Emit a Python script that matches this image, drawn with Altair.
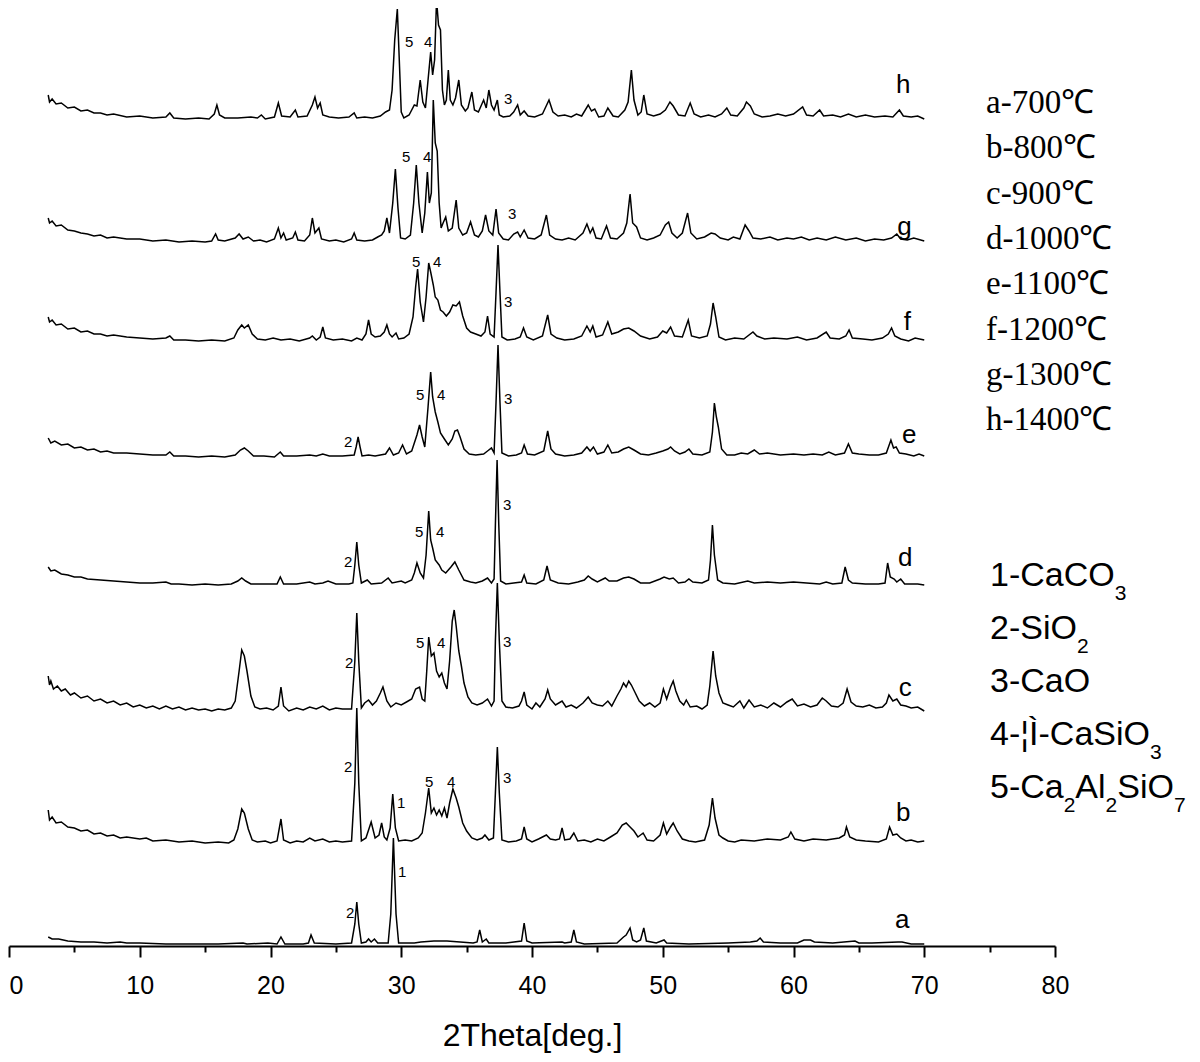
import altair as alt
import pandas as pd

# ---------------- data ----------------
TRACE_NAMES = ["a", "b", "c", "d", "e", "f", "g", "h"]
# vertical stacking offset of each pattern (intensity units)
TRACE_OFFSETS = [2, 103, 235, 361, 489, 604, 703, 826]
TEMPERATURE_LABELS = ["a-700℃", "b-800℃", "c-900℃", "d-1000℃",
                      "e-1100℃", "f-1200℃", "g-1300℃", "h-1400℃"]

# (2theta, intensity above the pattern's own baseline)
PATTERN_A = [(3.0, 7), (3.3, 5), (3.8, 5), (4.5, 3), (5.5, 2), (6.5, 2), (7.5, 1), (8.5, 2), (9.0, 1), (10, 1),
             (12, 0), (14, 0), (16, 0), (17.9, 1), (18.2, 0), (19.8, 1), (20.5, 0), (20.8, 7), (21.1, 0),
             (22.5, 0), (22.9, 1), (23.1, 9), (23.35, 1), (25, 0), (26.2, 1), (26.45, 20), (26.6, 42),
             (26.75, 20), (26.95, 1), (27.3, 2), (27.5, 5), (27.7, 2), (27.95, 5), (28.2, 1), (29.0, 1),
             (29.2, 30), (29.4, 106), (29.6, 30), (29.8, 1), (31, 1), (31.5, 2), (32.5, 3), (33.5, 3),
             (34.5, 2), (35.5, 1), (35.8, 2), (36.0, 14), (36.2, 2), (36.5, 5), (36.7, 1), (38, 1),
             (39.2, 3), (39.4, 21), (39.6, 3), (40, 1), (42.3, 2), (42.5, 1), (43.0, 2), (43.2, 14),
             (43.4, 2), (44, 0), (46.5, 1), (47.0, 7), (47.2, 9), (47.5, 16), (47.7, 4), (48.0, 2),
             (48.3, 4), (48.55, 16), (48.75, 3), (49.5, 1), (50.1, 4), (50.3, 1), (52, 0), (55, 1),
             (56.7, 2), (57.2, 3), (57.45, 6), (57.7, 2), (59, 1), (60.3, 1), (60.8, 4), (61.3, 4),
             (61.6, 2), (63, 1), (64.7, 3), (65.0, 1), (66, 1), (68.0, 2), (68.3, 2), (69, 0), (70, 0)]

PATTERN_B = [(3.0, 33), (3.1, 23), (3.3, 26), (3.6, 20), (4.0, 21), (4.5, 16), (5.0, 15), (5.5, 12), (6.0, 13),
             (6.5, 9), (7.0, 10), (7.5, 7), (8.0, 8), (8.5, 5), (9.0, 6), (10, 4), (10.5, 5), (11, 2), (12, 3),
             (13, 1), (14, 2), (15, 0), (16, 1), (16.8, 0), (17.2, 3), (17.5, 14), (17.8, 34), (18.0, 30),
             (18.3, 14), (18.6, 3), (19.0, 1), (19.6, 2), (20.0, 0), (20.5, 2), (20.8, 24), (21.0, 3),
             (21.5, 0), (22.0, 2), (22.5, 1), (23.0, 5), (23.4, 2), (24.0, 4), (24.5, 1), (25.0, 2),
             (25.5, 1), (26.2, 2), (26.45, 60), (26.6, 135), (26.75, 60), (26.95, 2), (27.3, 5),
             (27.7, 21), (28.0, 5), (28.3, 8), (28.5, 20), (28.7, 6), (28.9, 3), (29.15, 15), (29.35, 49),
             (29.55, 15), (29.8, 2), (30.3, 3), (30.8, 2), (31.3, 5), (31.6, 10), (31.85, 30), (32.1, 55),
             (32.3, 30), (32.5, 35), (32.7, 28), (32.9, 33), (33.1, 27), (33.3, 35), (33.5, 25), (33.7, 40),
             (33.95, 54), (34.2, 45), (34.4, 36), (34.7, 20), (35.0, 12), (35.4, 5), (35.8, 3), (36.2, 5),
             (36.4, 8), (36.7, 3), (37.05, 5), (37.2, 50), (37.35, 96), (37.5, 50), (37.7, 3), (38.2, 1),
             (38.8, 2), (39.2, 4), (39.4, 16), (39.6, 4), (40.0, 1), (40.5, 4), (41.1, 8), (41.4, 4),
             (41.8, 3), (42.1, 4), (42.3, 15), (42.5, 3), (42.9, 4), (43.2, 10), (43.5, 2), (44.0, 3),
             (44.5, 1), (45.0, 4), (45.5, 2), (46.0, 6), (46.5, 10), (46.9, 18), (47.2, 20), (47.5, 16),
             (47.8, 12), (48.1, 6), (48.5, 10), (48.8, 3), (49.3, 2), (49.8, 8), (50.05, 20), (50.3, 9),
             (50.6, 16), (50.8, 20), (51.1, 12), (51.5, 4), (52.0, 2), (52.5, 1), (53.2, 3), (53.55, 18),
             (53.8, 45), (54.0, 25), (54.3, 8), (54.6, 5), (55.0, 2), (55.5, 1), (56, 3), (57, 2), (58, 4),
             (59, 3), (59.6, 6), (59.8, 11), (60.1, 4), (60.8, 2), (61.5, 4), (62.5, 3), (63.5, 5),
             (63.9, 8), (64.05, 16), (64.3, 6), (64.8, 3), (65.5, 2), (66.5, 1), (67.1, 4), (67.35, 16),
             (67.6, 8), (67.9, 9), (68.2, 5), (68.6, 2), (69, 3), (69.5, 1), (70, 2)]

PATTERN_C = [(3.0, 35), (3.1, 26), (3.2, 30), (3.4, 22), (3.7, 25), (4.0, 20), (4.3, 22), (4.7, 16), (5.0, 18),
             (5.5, 13), (6.0, 15), (6.5, 10), (7.0, 12), (7.5, 8), (8.0, 10), (8.5, 6), (9.0, 8), (9.5, 4),
             (10, 6), (10.5, 3), (11, 5), (11.5, 2), (12, 5), (12.5, 2), (13, 4), (13.5, 1), (14, 3),
             (14.5, 1), (15, 2), (15.5, 0), (16, 2), (16.5, 1), (17.0, 3), (17.3, 10), (17.6, 40),
             (17.8, 61), (18.0, 55), (18.2, 40), (18.5, 15), (18.8, 4), (19.2, 2), (19.7, 3), (20.2, 1),
             (20.6, 5), (20.8, 24), (21.0, 5), (21.4, 0), (22.0, 3), (22.5, 1), (23.0, 4), (23.5, 2),
             (24.0, 5), (24.5, 1), (25.0, 3), (25.5, 2), (26.2, 2), (26.45, 50), (26.6, 98), (26.75, 50),
             (26.95, 3), (27.2, 8), (27.5, 11), (27.8, 6), (28.1, 10), (28.4, 18), (28.6, 24), (28.9, 10),
             (29.2, 4), (29.6, 8), (30.0, 6), (30.4, 9), (30.8, 12), (31.1, 22), (31.4, 24), (31.6, 12),
             (31.8, 10), (31.95, 40), (32.1, 74), (32.3, 55), (32.5, 58), (32.7, 40), (32.9, 34),
             (33.1, 38), (33.3, 28), (33.5, 22), (33.7, 50), (33.9, 90), (34.05, 101), (34.2, 85),
             (34.4, 60), (34.6, 45), (34.8, 28), (35.1, 14), (35.4, 8), (35.8, 6), (36.2, 8), (36.6, 12),
             (36.9, 5), (37.1, 10), (37.2, 70), (37.35, 128), (37.5, 70), (37.7, 10), (38.0, 4), (38.5, 3),
             (39.0, 5), (39.2, 10), (39.4, 19), (39.6, 6), (40.0, 2), (40.3, 8), (40.6, 4), (41.0, 12),
             (41.2, 21), (41.4, 12), (41.8, 6), (42.3, 10), (42.6, 4), (43.0, 6), (43.4, 3), (43.9, 8),
             (44.3, 14), (44.6, 8), (45.0, 6), (45.4, 5), (45.8, 10), (46.1, 5), (46.5, 15), (46.8, 22),
             (47.0, 28), (47.2, 24), (47.4, 30), (47.6, 26), (47.9, 18), (48.2, 10), (48.6, 5), (49.0, 8),
             (49.4, 4), (49.8, 8), (50.05, 22), (50.3, 12), (50.6, 24), (50.8, 30), (51.0, 20), (51.3, 10),
             (51.6, 6), (51.8, 11), (52.1, 4), (52.6, 5), (53.0, 2), (53.4, 6), (53.6, 25), (53.85, 60),
             (54.05, 35), (54.3, 18), (54.6, 8), (55.0, 6), (55.4, 4), (55.9, 10), (56.2, 3), (56.6, 11),
             (57.0, 4), (57.5, 6), (58.0, 3), (58.5, 8), (59.0, 4), (59.5, 9), (59.9, 12), (60.3, 5),
             (60.8, 7), (61.3, 4), (61.8, 6), (62.2, 13), (62.5, 10), (62.9, 5), (63.4, 4), (63.8, 8),
             (64.1, 22), (64.4, 9), (64.8, 5), (65.3, 4), (65.8, 6), (66.3, 3), (66.8, 4), (67.1, 8),
             (67.3, 16), (67.6, 10), (67.9, 12), (68.2, 6), (68.6, 5), (69.0, 3), (69.5, 4), (70, 0)]

PATTERN_D = [(3.0, 18), (3.2, 14), (3.5, 15), (4.0, 11), (4.5, 10), (5.0, 8), (5.5, 8), (6.0, 6), (7.0, 5),
             (8.0, 4), (9.0, 3), (10, 2), (11, 2), (12.0, 3), (12.4, 1), (13, 1), (14, 0), (15, 1), (16, 0),
             (17.0, 1), (17.5, 4), (17.8, 7), (18.1, 4), (18.5, 1), (19.5, 1), (20.5, 1), (20.75, 8),
             (21.0, 1), (22.0, 1), (23.0, 3), (23.4, 1), (24.0, 2), (24.4, 4), (25.0, 1), (26.0, 1),
             (26.3, 2), (26.45, 20), (26.6, 43), (26.75, 20), (26.95, 2), (27.4, 5), (27.7, 1), (28.5, 2),
             (29.0, 7), (29.3, 2), (30.0, 4), (30.3, 2), (30.8, 5), (31.0, 12), (31.2, 22), (31.45, 12),
             (31.7, 7), (31.9, 30), (32.1, 74), (32.25, 45), (32.4, 37), (32.6, 25), (32.9, 20), (33.1, 15),
             (33.4, 12), (33.8, 18), (34.1, 23), (34.4, 15), (34.8, 5), (35.3, 3), (35.7, 2), (36.2, 4),
             (36.6, 7), (36.9, 2), (37.1, 6), (37.2, 60), (37.33, 125), (37.46, 60), (37.6, 4), (38.0, 1),
             (38.6, 2), (39.2, 3), (39.4, 10), (39.6, 2), (40.3, 1), (40.9, 5), (41.15, 19), (41.4, 5),
             (42.0, 2), (42.8, 1), (43.5, 3), (44.0, 5), (44.3, 9), (44.6, 6), (45.0, 3), (45.6, 7),
             (45.9, 4), (46.5, 4), (47.0, 7), (47.4, 8), (47.8, 6), (48.3, 2), (49.0, 2), (49.8, 6),
             (50.1, 8), (50.5, 6), (50.8, 7), (51.2, 2), (51.7, 3), (52.0, 6), (52.3, 3), (53.0, 2),
             (53.5, 5), (53.65, 25), (53.8, 60), (53.95, 30), (54.2, 5), (54.6, 2), (55.5, 1), (56.5, 4),
             (57.0, 2), (58, 3), (59, 2), (60, 3), (61, 2), (62, 1), (62.5, 3), (63, 1), (63.7, 2),
             (63.95, 18), (64.2, 5), (64.5, 2), (65.5, 1), (66.5, 1), (67.0, 2), (67.2, 22), (67.4, 8),
             (67.7, 6), (67.9, 3), (68.2, 6), (68.5, 1), (69.5, 1), (70, 0)]

PATTERN_E = [(3.0, 19), (3.2, 14), (3.5, 16), (4.0, 12), (4.5, 13), (5.0, 9), (5.5, 10), (6.0, 7), (6.5, 8),
             (7.0, 5), (7.5, 6), (8.0, 4), (9.0, 4), (10, 3), (11, 2), (12.0, 2), (12.3, 5), (12.6, 1),
             (13.5, 1), (14.5, 0), (15.5, 1), (16.5, 0), (17.3, 2), (17.7, 7), (18.0, 9), (18.3, 6),
             (18.7, 1), (19.5, 1), (20.3, 0), (20.75, 5), (21.0, 1), (22.0, 1), (23.0, 2), (23.5, 1),
             (24.0, 3), (24.5, 1), (25.5, 1), (26.4, 2), (26.55, 10), (26.7, 20), (26.85, 10), (27.0, 1),
             (27.5, 2), (28.0, 1), (28.8, 3), (29.1, 9), (29.4, 2), (29.8, 4), (30.1, 12), (30.4, 3),
             (30.8, 6), (31.2, 22), (31.4, 32), (31.6, 20), (31.8, 10), (32.05, 50), (32.25, 85),
             (32.4, 60), (32.6, 45), (32.8, 35), (33.0, 24), (33.3, 18), (33.6, 12), (33.9, 18), (34.1, 26),
             (34.3, 27), (34.5, 20), (34.8, 8), (35.2, 3), (35.7, 2), (36.3, 3), (36.6, 6), (36.9, 9),
             (37.1, 4), (37.25, 55), (37.4, 112), (37.55, 55), (37.7, 4), (38.2, 1), (38.8, 2), (39.2, 4),
             (39.4, 12), (39.65, 3), (40.2, 2), (40.9, 6), (41.2, 26), (41.45, 8), (41.8, 3), (42.5, 1),
             (43.2, 2), (43.8, 4), (44.2, 10), (44.45, 6), (44.7, 10), (45.0, 3), (45.5, 5), (45.8, 12),
             (46.1, 4), (46.6, 5), (47.0, 8), (47.4, 10), (47.8, 7), (48.3, 3), (48.9, 2), (49.5, 4),
             (50.0, 6), (50.4, 8), (50.6, 10), (50.9, 6), (51.3, 3), (51.7, 5), (52.0, 8), (52.3, 3),
             (53.0, 2), (53.6, 5), (53.8, 25), (53.95, 54), (54.1, 40), (54.25, 30), (54.5, 8), (54.9, 2),
             (55.5, 2), (56, 4), (56.5, 3), (57.0, 7), (57.4, 3), (58, 4), (59, 2), (60, 3), (60.8, 2),
             (61.5, 3), (62.2, 2), (62.7, 5), (63.2, 2), (63.9, 4), (64.2, 13), (64.5, 4), (65.0, 3),
             (65.8, 2), (66.5, 2), (67.1, 4), (67.45, 17), (67.65, 9), (67.85, 10), (68.1, 4), (68.6, 3),
             (69.2, 1), (69.6, 3), (70, 1)]

PATTERN_F = [(3.0, 25), (3.1, 20), (3.3, 22), (3.6, 17), (4.0, 18), (4.5, 13), (5.0, 14), (5.5, 10), (6.0, 11),
             (6.5, 8), (7.0, 8), (7.5, 6), (8.0, 7), (9.0, 5), (10, 4), (11, 3), (12.0, 4), (12.3, 6),
             (12.6, 2), (13.5, 2), (14.5, 1), (15.5, 2), (16.5, 1), (17.2, 4), (17.5, 12), (17.8, 17),
             (18.0, 14), (18.3, 17), (18.6, 8), (19.0, 3), (19.6, 2), (20.2, 4), (20.8, 2), (21.5, 3),
             (22.2, 1), (23.0, 4), (23.2, 6), (23.5, 2), (23.8, 5), (24.0, 15), (24.2, 4), (24.8, 2),
             (25.5, 3), (26.2, 1), (26.6, 4), (27.0, 2), (27.3, 8), (27.5, 22), (27.7, 8), (28.0, 5),
             (28.4, 6), (28.7, 10), (28.9, 17), (29.1, 8), (29.3, 5), (29.6, 9), (29.8, 3), (30.2, 4),
             (30.6, 8), (30.9, 25), (31.1, 55), (31.25, 73), (31.45, 40), (31.7, 20), (31.9, 45),
             (32.1, 79), (32.25, 70), (32.45, 57), (32.6, 45), (32.8, 42), (33.0, 32), (33.2, 30),
             (33.45, 26), (33.7, 30), (33.95, 37), (34.2, 36), (34.45, 40), (34.7, 26), (35.0, 14),
             (35.3, 10), (35.7, 8), (36.1, 6), (36.4, 10), (36.6, 26), (36.8, 8), (37.1, 5), (37.25, 50),
             (37.4, 97), (37.55, 50), (37.7, 5), (38.1, 2), (38.7, 3), (39.1, 5), (39.35, 14), (39.6, 5),
             (40.1, 2), (40.8, 6), (41.2, 27), (41.45, 8), (41.9, 4), (42.5, 2), (43.2, 3), (43.8, 6),
             (44.2, 16), (44.45, 10), (44.65, 16), (44.9, 5), (45.4, 7), (45.8, 20), (46.1, 8), (46.6, 10),
             (47.0, 13), (47.4, 14), (47.8, 11), (48.3, 6), (49.0, 3), (49.6, 5), (50.0, 11), (50.3, 9),
             (50.6, 15), (50.9, 6), (51.5, 5), (51.95, 22), (52.2, 6), (52.8, 4), (53.4, 6), (53.65, 18),
             (53.85, 39), (54.05, 25), (54.3, 5), (54.8, 2), (55.5, 4), (56.2, 3), (56.9, 10), (57.2, 6),
             (57.8, 3), (58.5, 4), (59.5, 3), (60.3, 5), (61, 2), (61.8, 4), (62.5, 10), (62.8, 4),
             (63.5, 3), (64.0, 6), (64.25, 12), (64.5, 4), (65.3, 3), (66.0, 2), (66.8, 4), (67.25, 8),
             (67.5, 14), (67.75, 6), (68.2, 3), (68.8, 1), (69.3, 4), (70, 2)]

PATTERN_G = [(3.0, 25), (3.1, 20), (3.3, 22), (3.6, 17), (4.0, 18), (4.5, 13), (5.0, 12), (5.5, 10), (6.0, 9),
             (6.5, 7), (7.0, 8), (7.5, 5), (8.0, 6), (9.0, 4), (10, 4), (11, 2), (12, 3), (13, 1), (14, 2),
             (15, 1), (15.5, 2), (15.8, 9), (16.0, 3), (16.5, 2), (17.3, 5), (17.6, 9), (17.9, 4), (18.3, 6),
             (18.7, 2), (19.2, 3), (19.7, 1), (20.3, 4), (20.6, 15), (20.8, 5), (21.0, 10), (21.2, 3),
             (21.7, 5), (21.9, 11), (22.1, 3), (22.6, 2), (23.0, 8), (23.2, 25), (23.4, 10), (23.7, 15),
             (23.9, 4), (24.5, 2), (25.0, 3), (25.6, 1), (26.2, 4), (26.4, 10), (26.6, 3), (27.2, 2),
             (27.8, 3), (28.2, 6), (28.5, 8), (28.7, 12), (28.9, 25), (29.1, 10), (29.35, 40), (29.55, 74),
             (29.75, 35), (29.95, 5), (30.3, 4), (30.7, 8), (30.95, 40), (31.15, 78), (31.35, 40),
             (31.6, 10), (31.8, 30), (32.0, 71), (32.15, 40), (32.3, 50), (32.45, 143), (32.6, 100),
             (32.75, 92), (32.9, 40), (33.05, 15), (33.2, 20), (33.4, 26), (33.6, 12), (33.9, 15),
             (34.2, 43), (34.4, 15), (34.7, 8), (35.0, 10), (35.3, 21), (35.6, 8), (35.9, 6), (36.2, 12),
             (36.45, 28), (36.7, 12), (37.0, 8), (37.25, 34), (37.45, 10), (37.8, 4), (38.2, 3), (38.6, 9),
             (38.9, 11), (39.1, 6), (39.4, 13), (39.7, 5), (40.2, 4), (40.7, 8), (41.1, 28), (41.35, 8),
             (41.8, 4), (42.3, 3), (42.8, 5), (43.3, 3), (43.9, 10), (44.2, 19), (44.45, 10), (44.65, 15),
             (44.9, 5), (45.3, 4), (45.7, 17), (46.0, 5), (46.5, 4), (47.0, 10), (47.25, 20), (47.5, 49),
             (47.7, 20), (48.0, 16), (48.3, 5), (48.8, 3), (49.3, 5), (49.8, 8), (50.2, 18), (50.45, 21),
             (50.7, 10), (51.1, 5), (51.5, 10), (51.9, 30), (52.15, 10), (52.6, 4), (53.2, 6), (53.7, 10),
             (54.0, 9), (54.4, 5), (55, 3), (55.4, 6), (55.9, 4), (56.3, 18), (56.6, 12), (56.9, 5),
             (57.5, 4), (58.2, 6), (58.8, 3), (59.5, 5), (60.0, 4), (60.6, 6), (61.2, 3), (61.8, 5),
             (62.5, 3), (63.2, 6), (64.0, 3), (64.8, 5), (65.5, 2), (66.2, 4), (66.9, 3), (67.5, 5),
             (67.9, 9), (68.2, 4), (68.7, 3), (69.2, 5), (70, 2)]

PATTERN_H = [(3.0, 25), (3.1, 18), (3.3, 21), (3.6, 16), (4.0, 17), (4.5, 12), (5.0, 13), (5.5, 9), (6.0, 10),
             (6.5, 7), (7.0, 7), (7.5, 5), (8.0, 6), (9.0, 3), (10, 4), (11, 2), (12.0, 3), (12.3, 7),
             (12.6, 2), (13.5, 1), (14.5, 2), (15.3, 1), (15.7, 6), (15.9, 15), (16.1, 5), (16.5, 2),
             (17.5, 2), (18.5, 3), (19.0, 2), (19.3, 5), (19.6, 1), (20.3, 3), (20.6, 17), (20.85, 4),
             (21.5, 3), (21.9, 10), (22.1, 3), (22.8, 4), (23.2, 15), (23.4, 23), (23.6, 12), (23.8, 17),
             (24.0, 5), (24.5, 3), (25.2, 2), (26.0, 3), (26.4, 7), (26.6, 2), (27.2, 3), (27.8, 2),
             (28.4, 4), (28.8, 8), (29.1, 10), (29.3, 30), (29.5, 80), (29.7, 111), (29.85, 60), (30.0, 8),
             (30.2, 2), (30.6, 5), (31.0, 15), (31.2, 14), (31.45, 40), (31.65, 18), (31.85, 12),
             (32.05, 40), (32.25, 68), (32.4, 45), (32.55, 60), (32.7, 120), (32.85, 95), (33.0, 90),
             (33.15, 30), (33.3, 15), (33.45, 20), (33.6, 50), (33.75, 20), (33.95, 15), (34.15, 22),
             (34.4, 40), (34.6, 15), (34.9, 9), (35.1, 12), (35.4, 28), (35.6, 10), (35.9, 8), (36.1, 14),
             (36.3, 20), (36.5, 12), (36.7, 30), (36.9, 15), (37.1, 10), (37.35, 20), (37.5, 5), (37.8, 3),
             (38.3, 4), (38.6, 8), (38.9, 15), (39.1, 5), (39.4, 9), (39.7, 4), (40.2, 3), (40.8, 6),
             (41.3, 20), (41.6, 8), (42.0, 4), (42.5, 5), (43.0, 3), (43.4, 6), (43.8, 4), (44.3, 15),
             (44.55, 9), (44.8, 11), (45.1, 3), (45.5, 4), (45.8, 12), (46.2, 4), (46.6, 3), (47.1, 10),
             (47.35, 18), (47.6, 50), (47.8, 20), (48.1, 5), (48.35, 8), (48.55, 25), (48.8, 6), (49.3, 4),
             (49.8, 6), (50.2, 10), (50.55, 18), (50.8, 14), (51.2, 5), (51.7, 4), (52.1, 17), (52.4, 6),
             (52.9, 3), (53.5, 5), (54.0, 3), (54.5, 6), (54.9, 12), (55.2, 5), (55.7, 4), (56.2, 12),
             (56.4, 18), (56.7, 14), (57.0, 6), (57.6, 3), (58.2, 4), (58.8, 6), (59.4, 4), (60.0, 6),
             (60.7, 13), (61.0, 5), (61.5, 4), (62.0, 10), (62.3, 4), (63.0, 5), (63.6, 3), (64.2, 6),
             (64.8, 3), (65.5, 5), (66.2, 3), (67.0, 4), (67.6, 3), (68.1, 10), (68.4, 4), (69.0, 3),
             (69.5, 4), (70, 1)]

PATTERNS = [PATTERN_A, PATTERN_B, PATTERN_C, PATTERN_D, PATTERN_E, PATTERN_F, PATTERN_G, PATTERN_H]

# peak markers: (pattern, label, 2theta, height above that pattern's baseline)
PEAK_MARKS = [
    ("h", "5", 30.6, 78), ("h", "4", 32.06, 78), ("h", "3", 38.18, 21),
    ("g", "5", 30.37, 86), ("g", "4", 31.98, 86), ("g", "3", 38.49, 29),
    ("f", "5", 31.14, 80), ("f", "4", 32.75, 80), ("f", "3", 38.18, 40),
    ("e", "2", 25.94, 15), ("e", "5", 31.45, 62), ("e", "4", 33.05, 62), ("e", "3", 38.18, 58),
    ("d", "2", 25.94, 23), ("d", "5", 31.37, 53), ("d", "4", 32.98, 53), ("d", "3", 38.1, 80),
    ("c", "2", 26.01, 48), ("c", "5", 31.45, 68), ("c", "4", 33.05, 68), ("c", "3", 38.1, 69),
    ("b", "2", 25.94, 76), ("b", "1", 29.99, 40), ("b", "5", 32.13, 61), ("b", "4", 33.82, 61),
    ("b", "3", 38.1, 65),
    ("a", "2", 26.09, 31), ("a", "1", 30.07, 72),
]
# pattern letters at the right end: (2theta, height above baseline)
LETTER_POS = [(68.32, 24), (68.4, 30), (68.55, 23), (68.55, 27), (68.86, 22), (68.7, 20), (68.48, 16), (68.4, 35)]

PHASE_LINES = [  # list of (text, is_subscript) pieces
    [("1-CaCO", False), ("3", True)],
    [("2-SiO", False), ("2", True)],
    [("3-CaO", False)],
    [("4-¦Ì-CaSiO", False), ("3", True)],
    [("5-Ca", False), ("2", True), ("Al", False), ("2", True), ("SiO", False), ("7", True)],
]
X_TICKS = list(range(0, 81, 5))

# ---------------- build tables ----------------
offset_of = dict(zip(TRACE_NAMES, TRACE_OFFSETS))
rows = []
for name, pts in zip(TRACE_NAMES, PATTERNS):
    for x, r in pts:
        rows.append({"trace": name, "x": x, "y": offset_of[name] + r})
df = pd.DataFrame(rows)

marks_df = pd.DataFrame([{"t": t, "x": x, "y": offset_of[n] + r} for n, t, x, r in PEAK_MARKS])
letters_df = pd.DataFrame([{"t": n, "x": p[0], "y": offset_of[n] + p[1]}
                           for n, p in zip(TRACE_NAMES, LETTER_POS)])

W, H = 1046, 938
xscale = alt.Scale(domain=[0, 80], nice=False, zero=False)
yscale = alt.Scale(domain=[0, H], nice=False, zero=True)

AX = alt.Axis(
    values=X_TICKS,
    labelExpr="datum.value % 10 === 0 ? datum.label : ''",
    labelAlign={"condition": {"test": "datum.value === 0", "value": "left"}, "value": "center"},
    tickSize={"condition": {"test": "datum.value % 10 !== 0", "value": 6}, "value": 11},
    tickWidth=2, tickColor="black", domainWidth=2, domainColor="black",
    labelFont="Liberation Sans", labelFontSize=25, labelColor="black", labelPadding=16,
    labelFlush=False, labelOverlap=False, grid=False,
    title="2Theta[deg.]", titleFont="Liberation Sans", titleFontSize=32,
    titleFontWeight="normal", titleColor="black", titlePadding=22,
)

lines = alt.Chart(df).mark_line(color="black", strokeWidth=1.5, clip=False).encode(
    x=alt.X("x:Q", scale=xscale, axis=AX),
    y=alt.Y("y:Q", scale=yscale, axis=None),
    detail="trace:N",
    order="x:Q",
)

peak_text = alt.Chart(marks_df).mark_text(
    font="Liberation Sans", fontSize=15, color="black", align="center", baseline="middle"
).encode(x=alt.X("x:Q", scale=xscale, axis=AX), y=alt.Y("y:Q", scale=yscale, axis=None), text="t:N")

letter_text = alt.Chart(letters_df).mark_text(
    font="Liberation Sans", fontSize=26, color="black", align="center", baseline="middle"
).encode(x=alt.X("x:Q", scale=xscale, axis=AX), y=alt.Y("y:Q", scale=yscale, axis=None), text="t:N")

# temperature legend (serif)
temp_df = pd.DataFrame({"t": TEMPERATURE_LABELS,
                        "px": [977] * 8,
                        "py": [95 + 45.3 * i for i in range(8)]})
temp_text = alt.Chart(temp_df).mark_text(
    font="Liberation Serif", fontSize=33, color="black", align="left", baseline="middle"
).encode(x=alt.X("px:Q", scale=None), y=alt.Y("py:Q", scale=None), text="t:N")

# phase legend (sans, with subscripts)
ADV = {'1': 556, '2': 556, '3': 556, '4': 556, '5': 556, '7': 556, '-': 333, 'C': 722, 'a': 556,
       'O': 778, 'S': 667, 'i': 222, 'A': 667, 'l': 222, '¦': 260, 'Ì': 278}
MAIN, SUB = 34, 21
prow = []
for i, pieces in enumerate(PHASE_LINES):
    xcur = 981.0
    ycen = 568 + 53 * i
    for txt, sub in pieces:
        size = SUB if sub else MAIN
        prow.append({"t": txt, "px": xcur, "py": ycen + (18 if sub else 0), "size": size})
        xcur += sum(ADV.get(c, 556) for c in txt) / 1000.0 * size
phase_df = pd.DataFrame(prow)
phase_text = alt.Chart(phase_df).mark_text(
    font="Liberation Sans", color="black", align="left", baseline="middle"
).encode(x=alt.X("px:Q", scale=None), y=alt.Y("py:Q", scale=None), text="t:N",
         size=alt.Size("size:Q", scale=None, legend=None))

chart = alt.layer(lines, peak_text, letter_text, temp_text, phase_text).properties(
    width=W, height=H,
    autosize=alt.AutoSizeParams(type="none"),
    padding={"left": 1, "top": 0, "right": 137, "bottom": 108},
).configure_view(stroke=None)

chart.save("out.html", embed_options={"renderer": "svg", "actions": False})
